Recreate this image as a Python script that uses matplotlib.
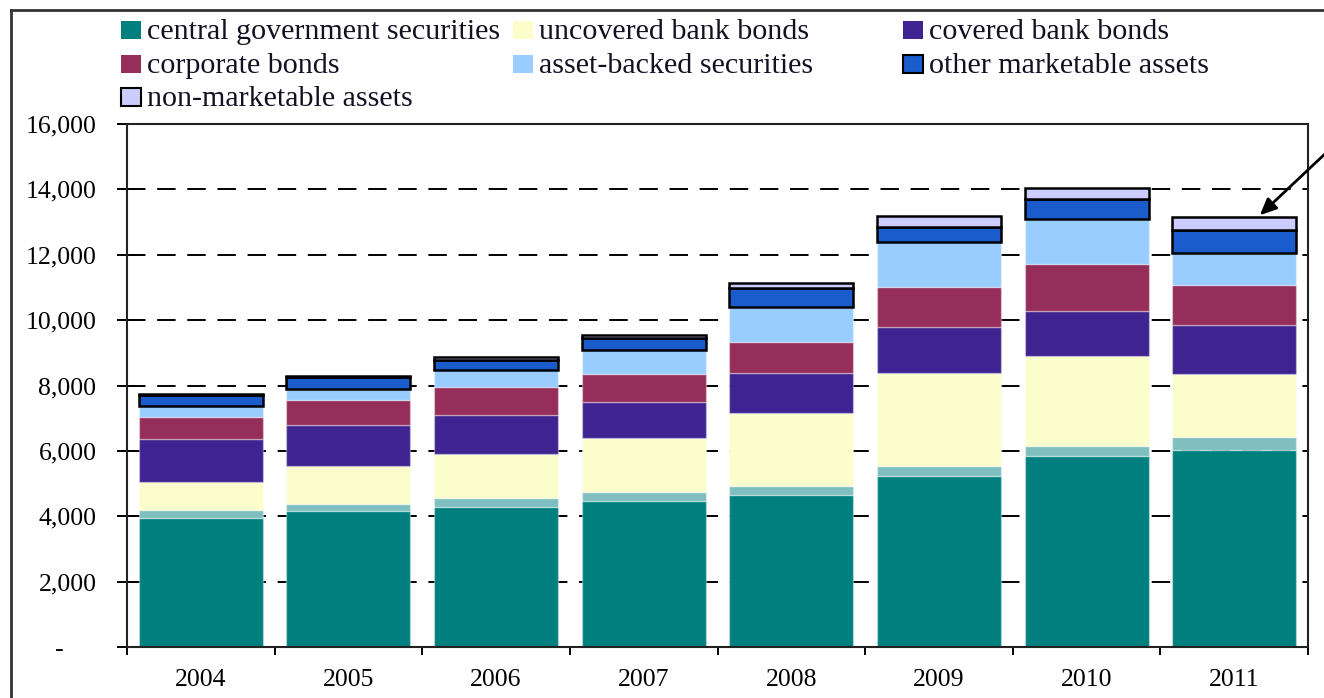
import matplotlib
matplotlib.use("Agg")
import matplotlib.pyplot as plt
import numpy as np
from matplotlib.lines import Line2D
from matplotlib.patches import Rectangle
from matplotlib.ticker import FixedLocator, FuncFormatter

# Jahre / Kategorien
years = ['2004', '2005', '2006', '2007', '2008', '2009', '2010', '2011']

# Werte pro Segment (von unten nach oben)
central_gov = [3960, 4150, 4290, 4475, 4650, 5220, 5835, 6040]
regional_gov = [240, 225, 280, 275, 285, 330, 325, 390]   # ohne Legende
uncovered_bank = [860, 1175, 1345, 1655, 2225, 2840, 2740, 1910]
covered_bank = [1315, 1235, 1195, 1075, 1230, 1400, 1390, 1500]
corporate = [665, 765, 830, 860, 950, 1225, 1440, 1225]
asset_backed = [325, 350, 520, 760, 1060, 1365, 1360, 1000]
other_marketable = [340, 360, 305, 340, 575, 460, 630, 685]
non_marketable = [30, 40, 105, 120, 175, 340, 330, 390]

y_ticks = [0, 2000, 4000, 6000, 8000, 10000, 12000, 14000, 16000]

series = [
    (central_gov, '#007F7F', 'central government securities', False),
    (regional_gov, '#80BFBF', None, False),
    (uncovered_bank, '#FBFDCB', 'uncovered bank bonds', False),
    (covered_bank, '#3E2391', 'covered bank bonds', False),
    (corporate, '#962E5B', 'corporate bonds', False),
    (asset_backed, '#99CCFF', 'asset-backed securities', False),
    (other_marketable, '#1A5CCB', 'other marketable assets', True),
    (non_marketable, '#CCCCFF', 'non-marketable assets', True),
]

plt.rcParams['font.family'] = ['Liberation Serif', 'DejaVu Serif']

W, H = 1324, 698
fig = plt.figure(figsize=(W / 100, H / 100), dpi=100)
ax = fig.add_axes([127 / W, 1 - 647 / H, (1308 - 127) / W, (647 - 124) / H])

x = np.arange(len(years))
bottom = np.zeros(len(years))
for values, color, label, outlined in series:
    vals = np.array(values, dtype=float)
    if outlined:
        ax.bar(x, vals, bottom=bottom, width=0.84, color=color,
               edgecolor='black', linewidth=1.8, zorder=3)
    else:
        ax.bar(x, vals, bottom=bottom, width=0.84, color=color,
               edgecolor=(1, 1, 1, 0.35), linewidth=1.0, zorder=2)
    bottom += vals

# Achsen
ax.set_xlim(-0.5, len(years) - 0.5)
ax.set_ylim(0, 16000)
ax.set_axisbelow(True)
ax.yaxis.grid(True, linestyle=(0, (9.5, 6)), color='black', linewidth=1.4)
ax.set_yticks(y_ticks)
# Buchhaltungsformat: Null als eingerückter Strich
ax.yaxis.set_major_formatter(FuncFormatter(lambda v, p: '-     ' if v == 0 else f'{int(v):,}'))

ax.xaxis.set_major_locator(FixedLocator(np.arange(-0.5, len(years), 1.0)))
ax.xaxis.set_major_formatter(FuncFormatter(lambda v, p: ''))
ax.xaxis.set_minor_locator(FixedLocator(x))
ax.set_xticklabels(years, minor=True)

ax.tick_params(axis='y', direction='inout', length=14, width=1.4, pad=15,
               labelsize=18.5, colors='black')
ax.tick_params(axis='x', which='major', direction='out', length=6, width=1.4)
ax.tick_params(axis='x', which='minor', length=0, pad=16, labelsize=18.5)

for s in ax.spines.values():
    s.set_linewidth(1.5)
    s.set_color('#222222')

# Legende manuell (zeilenweise, 3 Spalten)
legend_items = [s for s in series if s[2] is not None]
col_x = [121, 513, 903]
row_y = [30, 64, 97]
for i, (values, color, label, outlined) in enumerate(legend_items):
    cx = col_x[i % 3]
    cy = row_y[i // 3]
    ec = 'black' if outlined else 'none'
    fig.patches.append(Rectangle((cx / W, 1 - (cy + 9) / H), 20 / W, 18 / H,
                                 transform=fig.transFigure, facecolor=color,
                                 edgecolor=ec, linewidth=1.5))
    fig.text((cx + 26) / W, 1 - (cy + 2) / H, label, fontsize=21.6,
             va='center', ha='left', color='#111122')

# Pfeil zur Spitze des Balkens 2011
ax.annotate('', xy=(7.16, 13150), xycoords='data',
            xytext=(1345 / W, 1 - 135 / H), textcoords='figure fraction',
            arrowprops=dict(arrowstyle='-|>,head_length=1.0,head_width=0.45',
                            color='black', lw=2),
            annotation_clip=False)

# Rahmen
fig.lines.append(Line2D([11 / W, 11 / W], [0, 1 - 10 / H], transform=fig.transFigure,
                        color='#333333', linewidth=2))
fig.lines.append(Line2D([11 / W, 1], [1 - 10 / H, 1 - 10 / H], transform=fig.transFigure,
                        color='#333333', linewidth=2))

plt.savefig('out.png', dpi=100)
